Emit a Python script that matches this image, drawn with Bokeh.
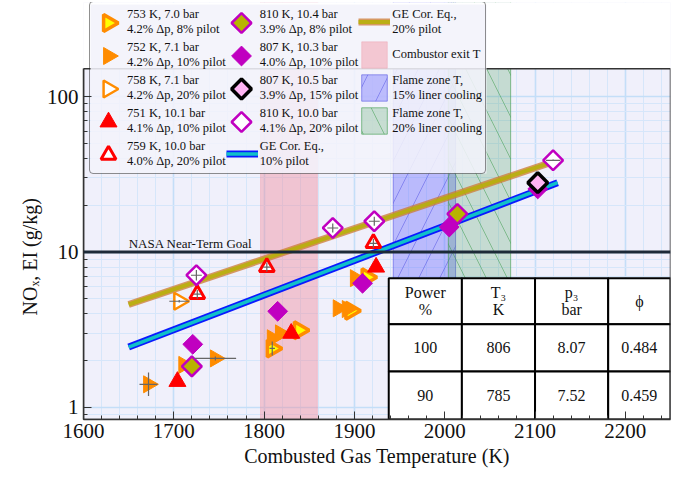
import numpy as np
from bokeh.plotting import figure
from bokeh.models import (Range1d, FixedTicker, NumeralTickFormatter, Span, Label,
                          Legend, LegendItem, Title)
from bokeh.embed import file_html
from bokeh.resources import INLINE
from bokeh.core.properties import value

# ---------------- data ----------------
# 753 K, 7.0 bar, 4.2% dp, 8% pilot
s1_T = [1809, 1839, 1896, 1914]
s1_v = [2.40, 3.14, 4.20, 6.9]
# 752 K, 7.1 bar, 4.2% dp, 10% pilot
s2_T = [1672, 1711, 1746, 1809, 1818, 1882, 1892, 1901]
s2_v = [1.41, 1.88, 2.07, 2.79, 3.00, 4.35, 4.30, 6.8]
# 758 K, 7.1 bar, 4.2% dp, 20% pilot
s3_T = [1706]
s3_v = [4.83]
# 751 K, 10.1 bar, 4.1% dp, 10% pilot
s4_T = [1704, 1830, 1924]
s4_v = [1.47, 3.00, 8.0]
# 759 K, 10.0 bar, 4.0% dp, 20% pilot
s5_T = [1726, 1803, 1921]
s5_v = [5.36, 8.0, 11.4]
# 810 K, 10.4 bar, 3.9% dp, 8% pilot
s6_T = [1720, 2014]
s6_v = [1.84, 17.6]
# 807 K, 10.3 bar, 4.0% dp, 10% pilot
s7_T = [1721, 1815, 1909, 2005, 2103]
s7_v = [2.55, 4.16, 6.3, 14.5, 25.5]
# 807 K, 10.5 bar, 3.9% dp, 15% pilot
s8_T = [2103]
s8_v = [28.0]
# 810 K, 10.0 bar, 4.1% dp, 20% pilot
s9_T = [1725, 1876, 1922, 2120]
s9_v = [7.1, 14.3, 15.8, 39.0]

# error bars (T, value, +-dT, multiplicative factor)
err_T = [1672, 1746, 1706, 1809, 1725, 1876, 1922, 1726, 1803, 1921, 2120]
err_v = [1.41, 2.07, 4.83, 2.40, 7.1, 14.3, 15.8, 5.36, 8.0, 11.4, 39.0]
err_dT = [10, 23, 11, 3, 6, 6, 6, 4, 4, 4, 8]
err_f = [1.19, 1.03, 1.02, 1.11, 1.08, 1.07, 1.07, 1.07, 1.07, 1.07, 1.01]

# GE correlations
ge10_T = [1650, 2125]
ge10_v = [2.45, 28.0]
ge20_T = [1650, 2125]
ge20_v = [4.6, 39.0]

# temperature bands
comb_exit = (1796, 1859)
flame15 = (1943, 2012)
flame20 = (2004, 2073)

nasa_goal = 10.0

# table
tab_header = ["Power\n%", "T\u2083\nK", "p\u2083\nbar", "\u03d5"]
tab_row1 = ["100", "806", "8.07", "0.484"]
tab_row2 = ["90", "785", "7.52", "0.459"]

# ---------------- figure ----------------
FONT = "Liberation Serif"
XLO, XHI = 1600, 2250
YLO, YTOP = 0.837, 151.6          # visible axis range
YFRAME = 404.2                    # frame extends above axis so legend can overlap
FW, FH = 587, 417
p = figure(frame_width=FW, frame_height=FH, min_border_left=83, min_border_right=19,
           min_border_top=2, min_border_bottom=59,
           x_range=Range1d(XLO, XHI), y_range=Range1d(YLO, YFRAME), y_axis_type="log",
           output_backend="svg", toolbar_location=None)
p.background_fill_color = "#f0f0fb"
p.border_fill_color = "white"
p.outline_line_color = None

p.xaxis.ticker = FixedTicker(ticks=list(range(1600, 2201, 100)),
                             minor_ticks=list(range(1600, 2251, 20)))
p.yaxis.ticker = FixedTicker(ticks=[1, 10, 100],
                             minor_ticks=[0.9] + [i for i in range(2, 10)] +
                                         [i * 10 for i in range(2, 10)])
p.yaxis.formatter = NumeralTickFormatter(format="0")
p.yaxis.bounds = (YLO, YTOP)
for ax in (p.xaxis[0], p.yaxis[0]):
    ax.major_tick_in = 8
    ax.major_tick_out = 0
    ax.minor_tick_in = 4
    ax.minor_tick_out = 0
    ax.axis_line_color = "#333333"
    ax.axis_line_width = 1.5
    ax.major_tick_line_color = "#333333"
    ax.minor_tick_line_color = "#333333"
    ax.major_label_text_font = FONT
    ax.major_label_text_font_size = "21px"
    ax.major_label_text_color = "#111111"
    ax.axis_label_text_font = FONT
    ax.axis_label_text_font_size = "20px"
    ax.axis_label_text_font_style = "normal"
    ax.axis_label_text_color = "#111111"
p.xaxis.axis_label = "Combusted Gas Temperature (K)"
p.xaxis.major_label_standoff = 4
p.xaxis.axis_label_standoff = 4
p.yaxis.major_label_standoff = 5

# y-axis title, centred on the visible part of the axis
p.add_layout(Title(text="NO\u2093, EI (g/kg)", align="left", offset=104, standoff=6,
                   text_font=FONT, text_font_size="20px", text_font_style="normal",
                   text_color="#111111"), "left")

for g in (p.xgrid[0], p.ygrid[0]):
    g.grid_line_color = "#c4def8"
    g.grid_line_width = 1.6
    g.minor_grid_line_color = "#d6e6fa"
    g.minor_grid_line_width = 1

# bands
r_pink = p.quad(left=[comb_exit[0]], right=[comb_exit[1]], bottom=[0.1], top=[1000],
                fill_color="#f08898", fill_alpha=0.42, line_color="#f08898", line_alpha=0.3)
r_blue = p.quad(left=[flame15[0]], right=[flame15[1]], bottom=[0.1], top=[1000],
                fill_color="#6a6aff", fill_alpha=0.40, line_color="#4040e0", line_alpha=0.5,
                hatch_pattern="/", hatch_color="#4848e0", hatch_alpha=0.45,
                hatch_scale=42, hatch_weight=1)
r_green = p.quad(left=[flame20[0]], right=[flame20[1]], bottom=[0.1], top=[1000],
                 fill_color="#4a9e5e", fill_alpha=0.26, line_color="#3a9a4a", line_alpha=0.6,
                 hatch_pattern="\\", hatch_color="#3a9a4a", hatch_alpha=0.5,
                 hatch_scale=42, hatch_weight=1)

# NASA goal
p.add_layout(Span(location=nasa_goal, dimension="width", line_color="#1c2a38", line_width=3))
p.add_layout(Label(x=1650, y=nasa_goal, y_offset=1, text="NASA Near-Term Goal",
                   text_font=FONT, text_font_size="13px", text_color="#111111"))

# GE correlations
g20a = p.line(ge20_T, ge20_v, line_color="#cc7a30", line_width=7, line_alpha=0.75)
g20b = p.line(ge20_T, ge20_v, line_color="#b4b400", line_width=4, line_alpha=0.8)
g10a = p.line(ge10_T, ge10_v, line_color="#0a1aff", line_width=7)
g10b = p.line(ge10_T, ge10_v, line_color="#10c0c8", line_width=3.5)

ORANGE = "#ff8c00"
RED = "#ff0000"
MAG = "#c000c0"
styles = [
    dict(marker="triangle", size=17, angle=-np.pi / 2, fill_color="#ffff00", line_color=ORANGE, line_width=3.5),
    dict(marker="triangle", size=17, angle=-np.pi / 2, fill_color=ORANGE, line_color=ORANGE, line_width=1),
    dict(marker="triangle", size=17, angle=-np.pi / 2, fill_color="white", line_color=ORANGE, line_width=2.5),
    dict(marker="triangle", size=17, fill_color=RED, line_color=RED, line_width=1),
    dict(marker="triangle", size=15, fill_color="white", line_color=RED, line_width=3),
    dict(marker="square", size=14, angle=np.pi / 4, fill_color="#b8b400", line_color=MAG, line_width=2.5),
    dict(marker="square", size=14, angle=np.pi / 4, fill_color=MAG, line_color=MAG, line_width=1),
    dict(marker="square", size=14, angle=np.pi / 4, fill_color="#ffb4f4", line_color="black", line_width=3.5),
    dict(marker="square", size=14, angle=np.pi / 4, fill_color="white", line_color=MAG, line_width=2.5),
]
series = [(s1_T, s1_v), (s2_T, s2_v), (s3_T, s3_v), (s4_T, s4_v), (s5_T, s5_v),
          (s6_T, s6_v), (s7_T, s7_v), (s8_T, s8_v), (s9_T, s9_v)]
for (T, v), st in zip(series, styles):
    p.scatter(T, v, **st)

# error bars
eT = np.array(err_T, float)
ev = np.array(err_v, float)
edT = np.array(err_dT, float)
ef = np.array(err_f, float)
p.segment(x0=eT - edT, x1=eT + edT, y0=ev, y1=ev, line_color="#666666", line_width=1.2)
p.segment(x0=eT, x1=eT, y0=ev / ef, y1=ev * ef, line_color="#666666", line_width=1.2)

# table
tx = [1938, 2019, 2100, 2181, 2250]
ty = [6.79, 3.43, 1.706, YLO]
rows = [tab_header, tab_row1, tab_row2]
qx0, qx1, qy0, qy1 = [], [], [], []
txt_x, txt_y, txt = [], [], []
for r in range(3):
    for c in range(4):
        qx0.append(tx[c]); qx1.append(tx[c + 1])
        qy1.append(ty[r]); qy0.append(ty[r + 1])
        txt_x.append((tx[c] + tx[c + 1]) / 2)
        txt_y.append(np.sqrt(ty[r] * ty[r + 1]))
        txt.append(rows[r][c])
p.quad(left=qx0, right=qx1, bottom=qy0, top=qy1, fill_color="white", line_color="black",
       line_width=2)
p.text(x=txt_x, y=txt_y, text=txt, text_align="center", text_baseline="middle",
       text_font=value(FONT), text_font_size="16px", text_color="#111111",
       text_line_height=1.0)

# white area above the axes and the frame outline (drawn as glyphs, under the legend)
p.quad(left=[XLO - 50], right=[XHI + 50], bottom=[YTOP], top=[YFRAME * 3],
       fill_color="white", line_color=None)
p.quad(left=[XLO], right=[XHI], bottom=[YLO], top=[YTOP], fill_color=None,
       line_color="#333333", line_width=1.5)

# screen (frame-relative) -> data conversion for the legend box and symbols
def to_data(fx, fy):
    T = XLO + fx / FW * (XHI - XLO)
    ly = np.log10(YLO) + fy / FH * (np.log10(YFRAME) - np.log10(YLO))
    return T, 10 ** ly

LEG_X, LEG_Y, PAD, GW, GH, LEG_W = 6, 245, 3, 32, 33, 398
leg_h = 2 * PAD + 5 * GH
bx0, by0 = to_data(LEG_X + 1, LEG_Y + 1)
bx1, by1 = to_data(LEG_X + LEG_W - 1, LEG_Y + leg_h - 1)
p.quad(left=[bx0], right=[bx1], bottom=[by0], top=[by1], fill_color="#f2f2fb",
       fill_alpha=0.88, line_color=None)

col_fx = [LEG_X + PAD + GW / 2, 158]
for i, st in enumerate(styles):
    c, r = divmod(i, 5)
    fy = LEG_Y + leg_h - PAD - GH / 2 - r * GH
    T, v = to_data(col_fx[c], fy)
    p.scatter([T], [v], **st)

# legend (labels + line/band swatches; marker symbols drawn above)
dummies = [p.scatter(x=[], y=[], marker="circle", fill_alpha=0, line_alpha=0) for _ in range(9)]
labels = ["753 K, 7.0 bar\n4.2% \u0394p, 8% pilot",
          "752 K, 7.1 bar\n4.2% \u0394p, 10% pilot",
          "758 K, 7.1 bar\n4.2% \u0394p, 20% pilot",
          "751 K, 10.1 bar\n4.1% \u0394p, 10% pilot",
          "759 K, 10.0 bar\n4.0% \u0394p, 20% pilot",
          "810 K, 10.4 bar\n3.9% \u0394p, 8% pilot",
          "807 K, 10.3 bar\n4.0% \u0394p, 10% pilot",
          "807 K, 10.5 bar\n3.9% \u0394p, 15% pilot",
          "810 K, 10.0 bar\n4.1% \u0394p, 20% pilot"]
items = [LegendItem(label=l, renderers=[d]) for l, d in zip(labels, dummies)]
items += [
    LegendItem(label="GE Cor. Eq.,\n10% pilot", renderers=[g10a, g10b]),
    LegendItem(label="GE Cor. Eq.,\n20% pilot", renderers=[g20a, g20b]),
    LegendItem(label="Combustor exit T", renderers=[r_pink]),
    LegendItem(label="Flame zone T,\n15% liner cooling", renderers=[r_blue]),
    LegendItem(label="Flame zone T,\n20% liner cooling", renderers=[r_green]),
]
legend = Legend(items=items, nrows=5, location=(LEG_X, LEG_Y), orientation="vertical")
legend.label_text_font = FONT
legend.label_text_font_size = "12.5px"
legend.label_text_line_height = 1.0
legend.label_text_color = "#111111"
legend.glyph_width = GW
legend.glyph_height = GH
legend.label_standoff = 2
legend.spacing = 0
legend.padding = PAD
legend.margin = 0
legend.background_fill_alpha = 0
legend.border_line_color = "#222222"
legend.border_line_width = 1.5
legend.border_radius = 4
p.add_layout(legend, "center")

open("out.html", "w").write(file_html(p, INLINE))
